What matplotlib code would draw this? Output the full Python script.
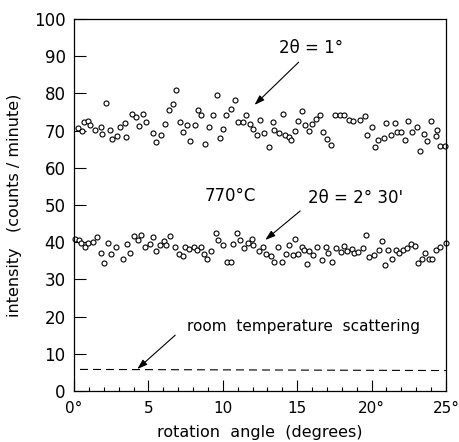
import matplotlib
matplotlib.use('Agg')
import matplotlib.pyplot as plt
from matplotlib.ticker import MultipleLocator

# readings for 2theta = 1 deg (upper series)
angle_1deg = [0.25, 0.52, 0.68, 0.91, 1.09, 1.38, 1.80, 1.91, 2.15, 2.42,
              2.58, 2.91, 3.09, 3.40, 3.51, 3.91, 4.18, 4.35, 4.62, 4.84,
              5.31, 5.52, 5.84, 6.11, 6.36, 6.65, 6.86, 7.11, 7.31, 7.62,
              7.80, 8.13, 8.33, 8.55, 8.80, 9.09, 9.33, 9.60, 9.80, 10.02,
              10.20, 10.56, 10.82, 11.00, 11.38, 11.58, 11.84, 12.02,
              12.33, 12.51, 12.80, 13.08, 13.38, 13.47, 13.78, 14.03, 14.18, 14.42,
              14.58, 14.82, 15.02, 15.31, 15.51, 15.82, 15.98, 16.27, 16.56, 16.75,
              17.00, 17.29, 17.51, 17.86, 18.17, 18.47, 18.78, 19.19, 19.55, 19.69,
              20.00, 20.23, 20.46, 20.80, 20.98, 21.29, 21.54, 21.73, 22.00, 22.27,
              22.45, 22.71, 23.04, 23.26, 23.53, 23.69, 24.00, 24.31, 24.40, 24.62,
              24.93]
counts_1deg = [70.7, 69.8, 72.2, 72.6, 71.5, 70.2, 70.9, 69.1, 77.4, 70.1,
               67.7, 68.5, 71.0, 72.1, 68.2, 74.4, 73.6, 71.2, 74.4, 72.3,
               69.4, 66.9, 68.7, 71.9, 75.6, 77.1, 80.8, 72.2, 69.7, 71.4,
               67.1, 71.4, 75.5, 74.1, 66.5, 70.9, 74.1, 79.5, 67.9, 70.4,
               74.3, 75.7, 78.3, 72.2, 72.2, 74.2, 71.7, 70.5,
               68.7, 72.8, 69.4, 65.7, 72.4, 70.1, 69.3, 74.4, 68.7, 68.4,
               67.5, 70.0, 72.7, 75.3, 71.6, 70.0, 71.9, 73.2, 74.3, 69.6,
               67.8, 66.0, 74.1, 74.1, 74.1, 72.9, 72.5, 72.9, 73.9, 68.7,
               70.9, 65.5, 67.5, 68.0, 72.1, 68.7, 72.1, 69.6, 69.6, 67.5,
               72.5, 69.6, 71.0, 64.5, 69.2, 67.1, 72.6, 68.5, 70.1, 65.9,
               65.9]

# readings for 2theta = 2 deg 30' (lower series)
angle_2deg30 = [0.07, 0.36, 0.47, 0.73, 0.96, 1.29, 1.56, 1.80, 2.02, 2.29,
                2.51, 2.82, 3.29, 3.53, 3.76, 4.02, 4.29, 4.47, 4.80, 5.09,
                5.33, 5.51, 5.76, 6.02, 6.20, 6.47, 6.78, 7.04, 7.31, 7.44,
                7.73, 8.07, 8.24, 8.51, 8.73, 8.93, 9.22, 9.53, 9.71, 10.00,
                10.27, 10.58, 10.67, 10.98, 11.18, 11.44, 11.71, 11.98,
                12.00, 12.44, 12.73, 12.89, 13.24, 13.47, 13.73, 13.96, 14.22, 14.47,
                14.73, 14.87, 15.02, 15.29, 15.47, 15.69, 15.78, 16.07, 16.36, 16.67,
                16.91, 17.07, 17.33, 17.64, 17.91, 18.13, 18.36, 18.67, 18.84, 19.07,
                19.40, 19.62, 19.84, 20.18, 20.47, 20.71, 20.91, 21.13, 21.38, 21.64,
                21.87, 22.09, 22.36, 22.62, 22.91, 23.11, 23.40, 23.58, 23.84, 24.04,
                24.31, 24.62, 24.98]
counts_2deg30 = [40.8, 40.6, 39.7, 38.6, 39.9, 40.0, 41.3, 37.0, 34.5, 39.7,
                 36.8, 38.7, 35.6, 39.4, 37.0, 41.6, 40.6, 42.0, 38.6, 39.5,
                 41.5, 37.5, 39.3, 40.4, 39.3, 41.6, 38.8, 36.9, 36.4, 38.6,
                 38.1, 38.6, 37.8, 38.6, 36.9, 35.4, 37.6, 42.6, 40.6, 39.3,
                 34.7, 34.7, 39.5, 42.6, 40.7, 38.4, 39.7, 40.8,
                 39.3, 37.5, 38.6, 36.9, 36.3, 34.7, 38.6, 34.7, 36.7, 39.2,
                 36.5, 40.8, 36.7, 38.6, 37.8, 34.2, 37.6, 36.6, 38.8, 35.1,
                 38.8, 37.0, 34.7, 38.4, 37.4, 39.0, 37.6, 38.1, 37.0, 37.4,
                 38.5, 41.9, 36.0, 36.5, 37.8, 40.3, 33.8, 37.9, 35.6, 37.8,
                 37.2, 37.9, 38.5, 39.5, 39.0, 34.5, 35.4, 37.0, 35.6, 35.4,
                 37.9, 38.6, 39.9]

# room temperature background (dashed)
room_angle = [0.4, 25.0]
room_counts = [5.8, 5.5]

xtick_vals = [0, 5, 10, 15, 20, 25]
xtick_labels = ['0°', '5', '10', '15', '20°', '25°']
ytick_vals = [0, 10, 20, 30, 40, 50, 60, 70, 80, 90, 100]

plt.rcParams['font.family'] = ['DejaVu Sans']
fig = plt.figure(figsize=(4.6, 4.42), dpi=100)
ax = fig.add_axes([0.1609, 0.1154, 0.8087, 0.8416])

ax.plot(angle_1deg, counts_1deg, 'o', mfc='white', mec='black', ms=3.6, mew=0.8, clip_on=False)
ax.plot(angle_2deg30, counts_2deg30, 'o', mfc='white', mec='black', ms=3.6, mew=0.8, clip_on=False)
ax.plot(room_angle, room_counts, color='black', lw=0.8, linestyle=(0, (7.2, 4.5)))

ax.set_xlim(0, 25)
ax.set_ylim(0, 100)
ax.set_xticks(xtick_vals)
ax.set_xticklabels(xtick_labels)
ax.set_yticks(ytick_vals)
ax.xaxis.set_minor_locator(MultipleLocator(1))
ax.tick_params(axis='x', which='major', direction='in', length=8, width=0.8, labelsize=11, pad=7)
ax.tick_params(axis='x', which='minor', direction='in', length=3, width=0.8)
ax.tick_params(axis='y', direction='in', length=8.5, width=0.8, labelsize=12, pad=6)
for s in ax.spines.values():
    s.set_linewidth(0.9)

ax.set_xlabel('rotation  angle  (degrees)', fontsize=11.5, labelpad=7)
ax.set_ylabel('intensity   (counts / minute)', fontsize=11.5, labelpad=9)

arrow = dict(arrowstyle='-|>,head_length=0.6,head_width=0.2', color='black', lw=0.8, shrinkA=0, shrinkB=0)
ax.text(15.9, 92.1, '2θ = 1°', fontsize=12, ha='center', va='center')
ax.annotate('', xy=(12.13, 76.9), xytext=(15.1, 88.4), arrowprops=arrow)
ax.text(10.5, 52.5, '770°C', fontsize=12, ha='center', va='center')
ax.text(18.9, 51.8, "2θ = 2° 30'", fontsize=12, ha='center', va='center')
ax.annotate('', xy=(12.85, 40.6), xytext=(15.2, 48.4), arrowprops=arrow)
ax.text(15.4, 17.3, 'room  temperature  scattering', fontsize=11, ha='center', va='center')
ax.annotate('', xy=(4.25, 5.9), xytext=(6.8, 15.0), arrowprops=arrow)

plt.savefig('out.png', dpi=100)
